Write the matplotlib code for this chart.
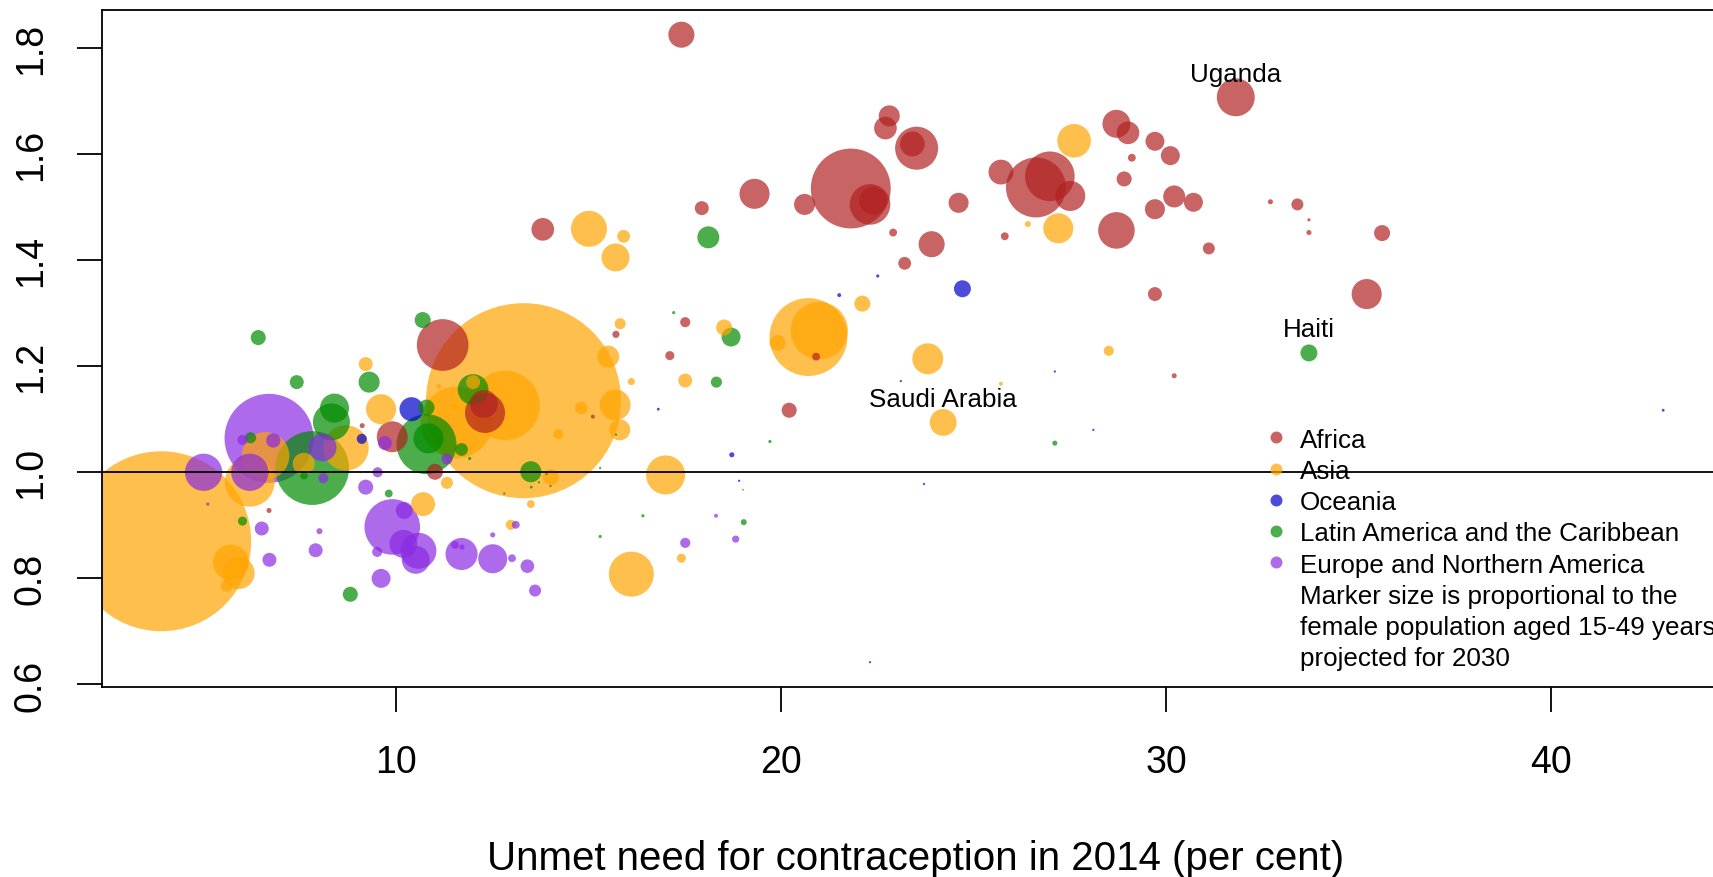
import numpy as np
import matplotlib.pyplot as plt
from matplotlib.lines import Line2D

plt.rcParams['font.family'] = ['Liberation Sans', 'DejaVu Sans']

# unmet need (x), ratio (y), female pop 15-49 in 2030 (millions)
africa_x = [11.2, 9.89, 9.11, 6.69, 11.0, 12.30, 12.27, 15.1, 15.7, 17.1, 17.5, 20.9, 20.2, 13.8,
            17.4, 17.93, 19.3, 20.6, 21.8, 22.3, 22.38, 22.8, 22.7, 23.51, 23.4, 22.9, 23.9, 23.2,
            24.6, 25.7, 26.61, 26.97, 27.5, 25.8, 28.7, 31.8, 28.7, 29.0, 29.7, 30.1, 29.1, 28.9,
            30.2, 30.7, 29.7, 31.1, 29.7, 32.7, 33.4, 33.7, 33.7, 35.6, 35.2, 30.2]
africa_y = [1.240, 1.067, 1.088, 0.928, 1.001, 1.112, 1.129, 1.105, 1.260, 1.220, 1.283, 1.218, 1.117, 1.458,
            1.825, 1.498, 1.525, 1.505, 1.535, 1.505, 1.512, 1.672, 1.649, 1.611, 1.619, 1.452, 1.430, 1.394,
            1.508, 1.566, 1.537, 1.558, 1.521, 1.445, 1.456, 1.707, 1.657, 1.640, 1.624, 1.597, 1.593, 1.553,
            1.520, 1.509, 1.496, 1.422, 1.336, 1.510, 1.505, 1.476, 1.452, 1.451, 1.336, 1.182]
africa_pop = [26, 9.3, 0.25, 0.25, 2.5, 15.6, 7.6, 0.15, 0.5, 0.8, 1.0, 0.6, 2.2, 5.0,
              6.6, 1.9, 8.8, 4.3, 62, 16, 7.6, 4.3, 5.0, 18, 6, 0.6, 6.6, 1.6,
              3.9, 6, 35, 24, 8.8, 0.6, 13, 14, 7.6, 5.0, 3.5, 3.5, 0.6, 2.2,
              4.7, 3.5, 3.9, 1.4, 1.9, 0.25, 1.4, 0.1, 0.25, 2.5, 8.8, 0.25]

asia_x = [3.89, 13.30, 12.82, 11.56, 9.2, 9.6, 8.69, 7.59, 6.6, 6.19, 5.7, 5.9, 5.59, 10.69,
          11.31, 11.99, 11.1, 11.5, 12.97, 13.49, 14.01, 16.99, 16.1, 17.4, 14.8, 14.2, 15.68, 15.8,
          15.5, 15.81, 16.1, 17.5, 18.51, 20.7, 20.98, 19.9, 22.1, 23.8, 24.2, 28.5, 25.7, 27.6,
          27.19, 26.4, 15.0, 15.69, 15.9]
asia_y = [0.870, 1.135, 1.126, 1.094, 1.204, 1.119, 1.046, 1.016, 1.031, 0.982, 0.830, 0.810, 0.786, 0.940,
          0.980, 1.170, 1.162, 1.124, 0.901, 0.940, 0.991, 0.995, 0.808, 0.838, 1.121, 1.072, 1.127, 1.080,
          1.218, 1.280, 1.171, 1.173, 1.273, 1.255, 1.267, 1.244, 1.318, 1.214, 1.094, 1.229, 1.167, 1.625,
          1.460, 1.468, 1.459, 1.405, 1.445]
asia_pop = [315, 370, 47, 50, 1.9, 8.8, 20, 4.7, 22, 24, 12.6, 10, 1.4, 5.6,
            1.4, 1.9, 0.25, 0.25, 1.0, 0.6, 2.5, 14.8, 19.7, 0.8, 1.6, 1.0, 9.3, 4.3,
            4.7, 1.2, 0.5, 1.9, 2.5, 59, 32, 2.5, 2.5, 9.3, 7.0, 1.0, 0.15, 11,
            8.8, 0.35, 12.6, 7.6, 1.6]

oceania_x = [10.39, 9.10, 24.7, 18.71, 16.8, 18.9, 22.5, 21.5, 23.1, 27.1, 23.7, 28.1, 42.9, 22.3]
oceania_y = [1.119, 1.063, 1.346, 1.033, 1.119, 0.984, 1.370, 1.334, 1.172, 1.190, 0.978, 1.080, 1.117, 0.642]
oceania_pop = [5.6, 1.0, 2.8, 0.25, 0.08, 0.05, 0.1, 0.15, 0.05, 0.05, 0.05, 0.05, 0.08, 0.05]

latin_x = [6.41, 7.41, 10.68, 9.29, 8.39, 8.31, 10.78, 10.78, 10.83, 7.81, 7.6, 6.21, 6.0, 8.8,
           9.8, 11.69, 11.9, 11.99, 13.49, 13.5, 13.7, 13.9, 14.0, 12.8, 15.29, 15.7, 16.4, 15.29,
           19.02, 19.7, 19.0, 18.31, 17.2, 18.69, 18.1, 33.7, 27.1]
latin_y = [1.254, 1.170, 1.287, 1.170, 1.121, 1.095, 1.122, 1.053, 1.064, 1.008, 0.994, 1.065, 0.908, 0.770,
           0.960, 1.043, 1.026, 1.156, 1.001, 0.972, 0.981, 0.997, 0.974, 0.960, 1.008, 1.071, 0.918, 0.879,
           0.906, 1.058, 0.967, 1.170, 1.301, 1.255, 1.443, 1.225, 1.055]
latin_pop = [2.2, 1.9, 2.5, 4.3, 8.2, 13.3, 2.5, 35, 8.8, 53, 0.6, 1.2, 0.8, 2.2,
             0.6, 1.6, 0.1, 9.2, 4.3, 0.08, 0.05, 0.05, 0.05, 0.05, 0.05, 0.05, 0.1, 0.1,
             0.35, 0.1, 0.03, 1.2, 0.1, 3.5, 4.7, 2.8, 0.25]

europe_x = [6.69, 8.08, 8.1, 6.19, 4.99, 6.0, 6.8, 5.1, 6.5, 6.7, 8.0, 7.9, 9.51, 9.2,
            9.89, 10.2, 10.18, 10.57, 10.5, 9.5, 9.6, 11.69, 11.52, 11.7, 12.5, 12.5, 13.0, 13.1,
            13.4, 13.6, 11.31, 9.70, 17.5, 18.81, 18.3]
europe_y = [1.064, 1.047, 0.989, 1.000, 1.000, 1.061, 1.060, 0.940, 0.894, 0.835, 0.889, 0.853, 1.000, 0.972,
            0.897, 0.928, 0.865, 0.852, 0.835, 0.850, 0.800, 0.846, 0.863, 0.859, 0.837, 0.882, 0.838, 0.901,
            0.823, 0.777, 1.025, 1.055, 0.867, 0.874, 0.918]
europe_pop = [77, 7.6, 1.0, 13.5, 13.5, 1.0, 2.0, 0.1, 1.9, 1.9, 0.35, 1.9, 1.0, 2.2,
              30, 2.8, 7.6, 12.6, 7.6, 1.0, 3.5, 10, 0.6, 0.25, 8.2, 0.25, 0.6, 0.6,
              1.8, 1.4, 1.2, 1.9, 1.0, 0.5, 0.15]

regions = ['Africa', 'Asia', 'Oceania', 'Latin America and the Caribbean', 'Europe and Northern America']
region_colors = ['#B22222', '#FFA500', '#0000CD', '#008B00', '#8A2BE2']
note = ['Marker size is proportional to the',
        'female population aged 15-49 years',
        'projected for 2030']

labels = ['Uganda', 'Saudi Arabia', 'Haiti']
label_x = [31.8, 24.2, 33.7]
label_y = [1.707, 1.094, 1.225]

xs = [africa_x, asia_x, oceania_x, latin_x, europe_x]
ys = [africa_y, asia_y, oceania_y, latin_y, europe_y]
pops = [africa_pop, asia_pop, oceania_pop, latin_pop, europe_pop]

x_all, y_all, p_all, c_all = [], [], [], []
for xx, yy, pp, col in zip(xs, ys, pops, region_colors):
    x_all += xx
    y_all += yy
    p_all += pp
    c_all += [col] * len(xx)
x_all = np.array(x_all)
y_all = np.array(y_all)
p_all = np.array(p_all)
c_all = np.array(c_all)
order = np.argsort(-p_all)  # big bubbles first

fig = plt.figure(figsize=(17.13, 8.78), dpi=100)
ax = fig.add_axes([0.0594, 0.2164, 0.9406, 0.7711])

ax.scatter(x_all[order], y_all[order], s=p_all[order] * 53.3, c=c_all[order],
           alpha=0.7, linewidths=0)
ax.axhline(1.0, color='black', lw=1.3)

for lab, lx, ly in zip(labels, label_x, label_y):
    ax.annotate(lab, (lx, ly), xytext=(0, 12), textcoords='offset points',
                ha='center', va='baseline', fontsize=18.7)

ax.set_xlim(2.345, 44.195)
ax.set_ylim(0.5952, 1.8716)
ax.set_xticks([10, 20, 30, 40])
ax.set_yticks([0.6, 0.8, 1.0, 1.2, 1.4, 1.6, 1.8])
ax.set_yticklabels(['0.6', '0.8', '1.0', '1.2', '1.4', '1.6', '1.8'])
ax.tick_params(axis='both', length=18, width=1.3, labelsize=27)
ax.tick_params(axis='x', pad=23)
ax.tick_params(axis='y', pad=20)
for lab in ax.get_yticklabels():
    lab.set_rotation(90)
    lab.set_va('center')
ax.spines['right'].set_visible(False)
for sp in ['left', 'top', 'bottom']:
    ax.spines[sp].set_linewidth(1.3)

fig.text(0.5347, 0.0216, 'Unmet need for contraception in 2014 (per cent)',
         ha='center', va='center', fontsize=29)

handles = [Line2D([], [], ls='none', marker='o', markersize=8.6, markeredgewidth=0,
                  color=col, alpha=0.7) for col in region_colors]
handles += [Line2D([], [], ls='none') for _ in note]
leg = ax.legend(handles, regions + note, loc='upper left',
                bbox_to_anchor=(1265.5 / 1713, (878 - 428.5) / 878),
                bbox_transform=fig.transFigure, frameon=False, fontsize=18.7,
                borderpad=0, borderaxespad=0, handlelength=0.8, handletextpad=0.51,
                labelspacing=0.28)

fig.savefig('out.png', dpi=100)
